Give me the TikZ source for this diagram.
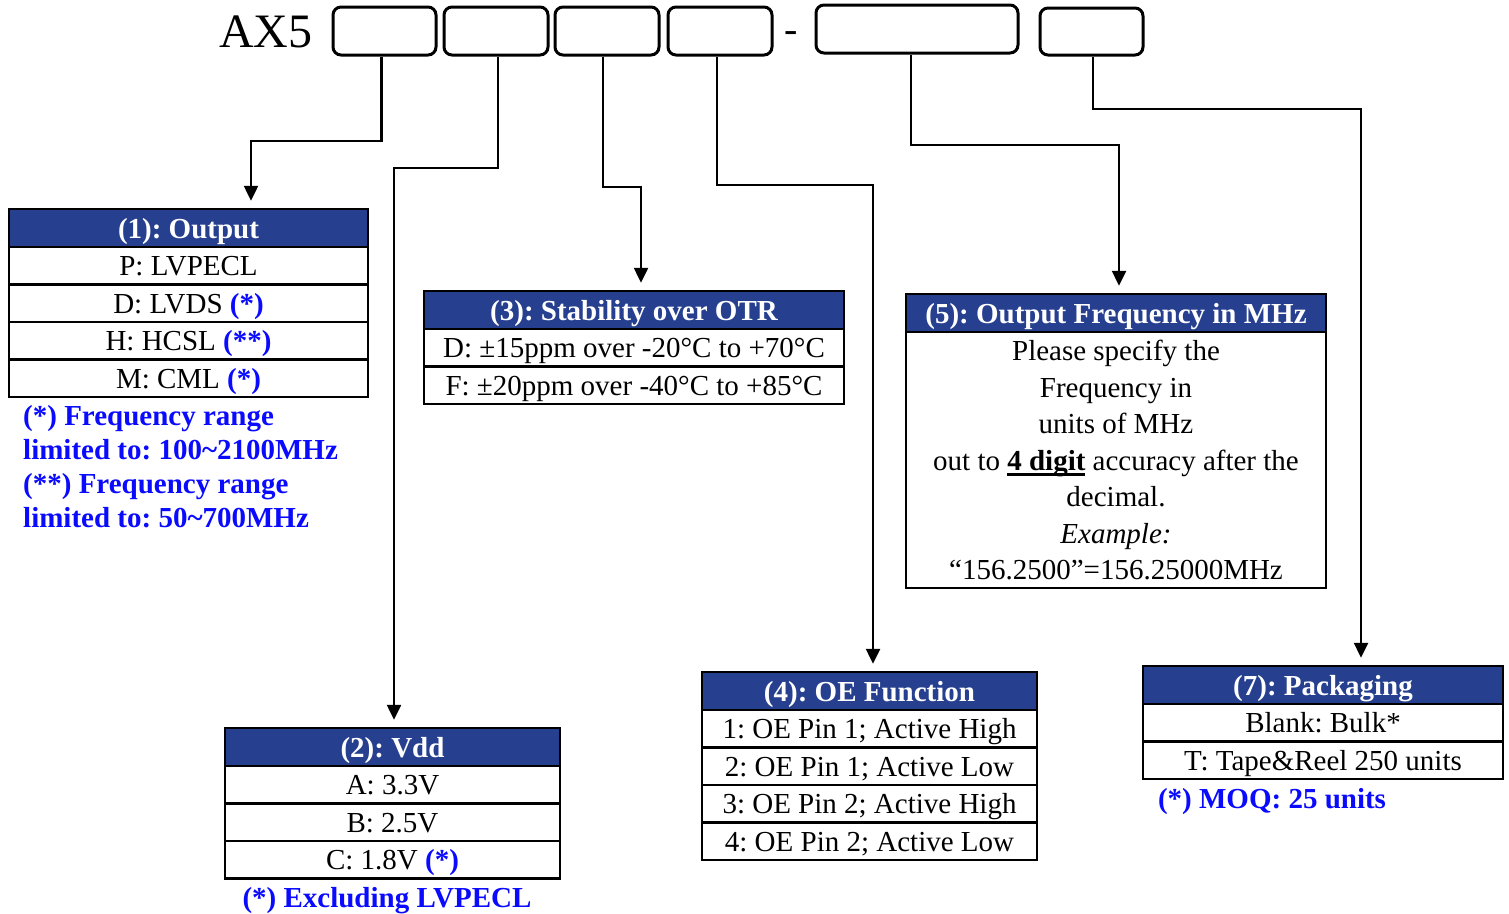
\documentclass[tikz,border=0pt]{standalone}
\usepackage{fontspec}
\setmainfont{Liberation Serif}
\usetikzlibrary{arrows.meta,positioning}
\definecolor{headblue}{RGB}{38,64,143}
\definecolor{noteblue}{RGB}{10,10,255}
\newcommand{\thickul}[1]{\leavevmode\setbox0\hbox{#1}\rlap{\vrule height -3pt depth 6pt width \wd0}\box0\relax}

\tikzset{
	codebox/.style={draw, line width=3pt, rounded corners=8pt, inner sep=0pt},
	headcell/.style={draw, line width=2.5pt, fill=headblue, text=white,
		font=\fontsize{29}{35}\selectfont\bfseries, inner sep=0pt,
		minimum height=38pt, text height=20pt, text depth=0pt},
	basecell/.style={draw, line width=2.5pt, fill=white,
		font=\fontsize{29}{35}\selectfont, inner sep=0pt},
	cell/.style={basecell, minimum height=37.5pt, text height=20pt, text depth=0pt},
	note/.style={text=noteblue, font=\fontsize{29}{34}\selectfont\bfseries, inner sep=0pt},
	conn/.style={line width=2.5pt, -{Triangle[length=15pt,width=14pt]}, shorten >=7pt}
}

\begin{document}
\frenchspacing
\begin{tikzpicture}[x=1pt,y=-1pt]
	\useasboundingbox (0,0) rectangle (1509,913);
	
	% part number
	\node[anchor=base west, inner sep=0pt, font=\fontsize{48}{56}\selectfont] (pn) at (219,47) {AX5};
	\node[codebox, minimum width=103pt, minimum height=48pt] (b1) at (384.5,31) {};
	\node[codebox, minimum width=104pt, minimum height=48pt] (b2) at (496,31) {};
	\node[codebox, minimum width=104pt, minimum height=48pt] (b3) at (607,31) {};
	\node[codebox, minimum width=104pt, minimum height=48pt] (b4) at (720,31) {};
	\node[inner sep=0pt, font=\fontsize{40}{48}\selectfont] (dash) at (791,37) {-};
	\node[codebox, minimum width=202pt, minimum height=48pt] (b5) at (917,29) {};
	\node[codebox, minimum width=103pt, minimum height=47pt] (b6) at (1091.5,31.5) {};
	
	% (1) output
	\node[headcell, minimum width=359pt] (t1h) at (188.5,228) {(1): Output};
	\node[cell, minimum width=359pt] (t1a) at (188.5,265.5) {P: LVPECL};
	\node[cell, minimum width=359pt] (t1b) at (188.5,303) {D: LVDS \textcolor{noteblue}{\bfseries(*)}};
	\node[cell, minimum width=359pt] (t1c) at (188.5,340.5) {H: HCSL \textcolor{noteblue}{\bfseries(**)}};
	\node[cell, minimum width=359pt] (t1d) at (188.5,378) {M: CML \textcolor{noteblue}{\bfseries(*)}};
	\node[note, anchor=north west, align=left] (n1) at (23,405)
		{(*) Frequency range\\limited to: 100\textasciitilde2100MHz\\(**) Frequency range\\limited to: 50\textasciitilde700MHz};
	
	% (2) vdd
	\node[headcell, minimum width=335pt] (t2h) at (392.5,747) {(2): Vdd};
	\node[cell, minimum width=335pt] (t2a) at (392.5,784.5) {A: 3.3V};
	\node[cell, minimum width=335pt] (t2b) at (392.5,822) {B: 2.5V};
	\node[cell, minimum width=335pt] (t2c) at (392.5,859.5) {C: 1.8V \textcolor{noteblue}{\bfseries(*)}};
	\node[note, anchor=base] (n2) at (387,907) {(*) Excluding LVPECL};
	
	% (3) stability
	\node[headcell, minimum width=420pt] (t3h) at (634,310) {(3): Stability over OTR};
	\node[cell, minimum width=420pt] (t3a) at (634,347.5) {D: ±15ppm over -20°C to +70°C};
	\node[cell, minimum width=420pt] (t3b) at (634,385) {F: ±20ppm over -40°C to +85°C};
	
	% (4) oe function
	\node[headcell, minimum width=335pt] (t4h) at (869.5,691) {(4): OE Function};
	\node[cell, minimum width=335pt] (t4a) at (869.5,728.5) {1: OE Pin 1; Active High};
	\node[cell, minimum width=335pt] (t4b) at (869.5,766) {2: OE Pin 1; Active Low};
	\node[cell, minimum width=335pt] (t4c) at (869.5,803.5) {3: OE Pin 2; Active High};
	\node[cell, minimum width=335pt] (t4d) at (869.5,841) {4: OE Pin 2; Active Low};
	
	% (5) frequency
	\node[headcell, minimum width=420pt] (t5h) at (1116,313) {(5): Output Frequency in MHz};
	\node[basecell, minimum width=420pt, minimum height=256pt, align=center,
		font=\fontsize{29}{36.5}\selectfont] (t5a) at (1116,460)
		{Please specify the\\Frequency in\\units of MHz\\out to \thickul{\textbf{4 digit}} accuracy after the\\decimal.\\\textit{Example:}\\“156.2500”=156.25000MHz};
	
	% (7) packaging
	\node[headcell, minimum width=360pt] (t7h) at (1323,685) {(7): Packaging};
	\node[cell, minimum width=360pt] (t7a) at (1323,722.5) {Blank: Bulk*};
	\node[cell, minimum width=360pt] (t7b) at (1323,760) {T: Tape\&Reel 250 units};
	\node[note, anchor=base] (n7) at (1272,808) {(*) MOQ: 25 units};
	
	% connectors
	\coordinate (k1) at (251,141);
	\coordinate (k2) at (394,168);
	\coordinate (k3) at (641,187);
	\coordinate (k4) at (873,185);
	\coordinate (k5) at (1119,145);
	\coordinate (k6) at (1361,109);
	\draw[conn] ([xshift=-3pt]b1.south) |- (k1) -- (k1 |- t1h.north);
	\draw[conn] ([xshift=2pt]b2.south) |- (k2) -- (k2 |- t2h.north);
	\draw[conn] ([xshift=-4pt]b3.south) |- (k3) -- (k3 |- t3h.north);
	\draw[conn] ([xshift=-3pt]b4.south) |- (k4) -- (k4 |- t4h.north);
	\draw[conn] ([xshift=-6pt]b5.south) |- (k5) -- (k5 |- t5h.north);
	\draw[conn] ([xshift=1.5pt]b6.south) |- (k6) -- (k6 |- t7h.north);
\end{tikzpicture}
\end{document}
